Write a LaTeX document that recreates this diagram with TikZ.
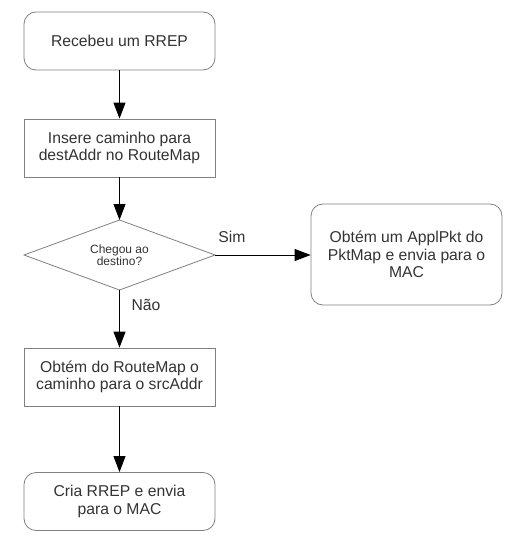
\documentclass[tikz,border=0pt]{standalone}
\usepackage{fontspec}
\setmainfont{Liberation Sans}
\usetikzlibrary{arrows.meta,shapes.geometric}
\definecolor{txt}{HTML}{333333}
\definecolor{edge}{HTML}{808080}
\tikzset{
  box/.style={draw=edge, line width=0.8pt, minimum width=191pt, minimum height=58pt, align=center, text=txt, font=\fontsize{15.7}{17.5}\selectfont, inner sep=0pt},
  rbox/.style={box, rounded corners=12pt},
  flow/.style={line width=0.9pt, -{Triangle[length=16pt,width=12pt]}},
  lbl/.style={text=txt, font=\fontsize{15.7}{17.5}\selectfont}
}
\begin{document}
\begin{tikzpicture}[x=1pt,y=-1pt]
\useasboundingbox (0,0) rectangle (524,556);
\node[rbox] (n1) at (119.5,41) {Recebeu um RREP};
\node[box] (n2) at (119.5,148) {Insere caminho para\\destAddr no RouteMap};
\path[draw=edge, line width=0.8pt] (24,255) -- (119.5,220) -- (215,255) -- (119.5,290) -- cycle;
\coordinate (dt) at (119.5,220);
\coordinate (dr) at (215,255);
\coordinate (db) at (119.5,290);
\node[text=txt, font=\fontsize{12}{12}\selectfont, align=center] (dtext) at (119.5,255) {Chegou ao\\destino?};
\node[rbox, minimum height=101pt] (n5) at (406.5,254.5) {Obtém um ApplPkt do\\PktMap e envia para o\\MAC};
\node[box] (n3) at (119.5,377) {Obtém do RouteMap o\\caminho para o srcAddr};
\node[rbox] (n4) at (119.5,501.5) {Cria RREP e envia\\para o MAC};
\draw[flow] (n1) -- (n2);
\draw[flow] (n2) -- (dt);
\draw[flow] (dr) -- (n5.west |- dr);
\draw[flow] (db) -- (n3);
\draw[flow] (n3) -- (n4);
\node[lbl] (sim) at (232,237) {Sim};
\node[lbl] (nao) at (146,305) {Não};
\end{tikzpicture}
\end{document}
